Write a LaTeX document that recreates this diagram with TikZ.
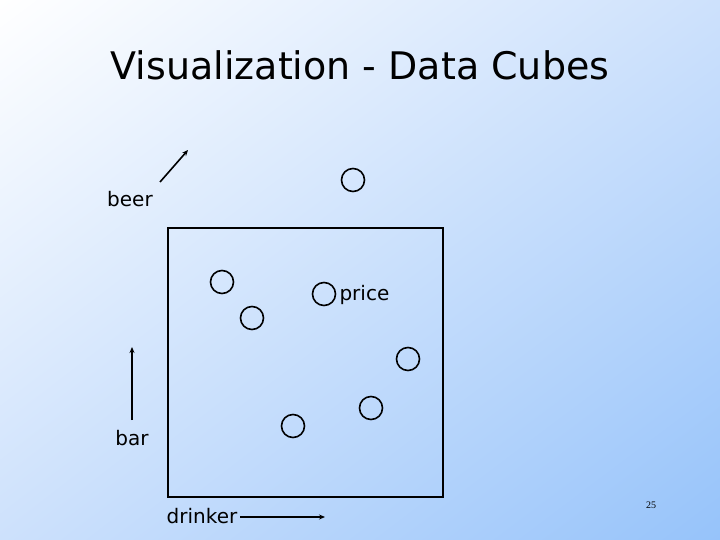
\documentclass[tikz,border=0pt]{standalone}
\usepackage{fontspec}
\setmainfont{DejaVu Sans}
\newfontfamily\numfont{Liberation Serif}
\usetikzlibrary{arrows.meta,shadings}
\definecolor{bgblue}{RGB}{150,195,250}
\definecolor{midblue}{RGB}{205,225,252}
\begin{document}
\begin{tikzpicture}[x=1pt,y=-1pt,
  dot/.style={circle,draw,line width=1.6pt,minimum size=23pt,inner sep=0pt},
  lbl/.style={font=\fontsize{20}{22}\selectfont},
  axis/.style={line width=1.6pt,-{Stealth[length=6pt,width=5pt]}}]
\useasboundingbox (0,0) rectangle (720,540);
\begin{scope}[yscale=-1]
\shade[upper left=white,upper right=midblue,lower left=midblue,lower right=bgblue] (0,0) rectangle (720,-540);
\end{scope}
\node[font=\fontsize{38}{42}\selectfont] (title) at (360,65) {Visualization - Data Cubes};
\coordinate (b1) at (160,182); \coordinate (b2) at (188,150);
\draw[axis] (b1) -- (b2);
\node[lbl] (beer) at (130,199) {beer};
\node[dot] (c0) at (353,180) {};
\draw[line width=1.6pt] (168,228) rectangle (443,497);
\node[dot] (c1) at (222,282) {};
\node[dot] (c2) at (252,318) {};
\node[dot] (c3) at (324,294) {};
\node[lbl,anchor=west] (price) at (336,295) {price};
\node[dot] (c4) at (408,359) {};
\node[dot] (c5) at (371,408) {};
\node[dot] (c6) at (293,426) {};
\coordinate (a1) at (132,420); \coordinate (a2) at (132,347);
\draw[axis] (a1) -- (a2);
\node[lbl] (bar) at (132,438) {bar};
\node[lbl] (drinker) at (202,516) {drinker};
\coordinate (d1) at (240,517); \coordinate (d2) at (325,517);
\draw[axis] (d1) -- (d2);
\node[font=\numfont\fontsize{10}{12}\selectfont] (num) at (651,505) {25};
\end{tikzpicture}
\end{document}
